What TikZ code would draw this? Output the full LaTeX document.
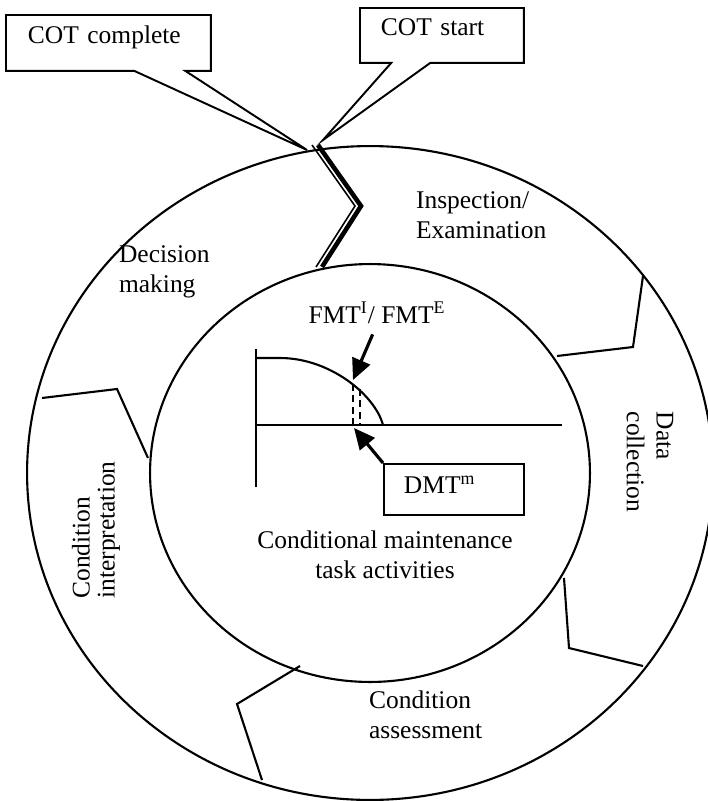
\documentclass[tikz,border=0pt]{standalone}
\usepackage{fontspec}
\setmainfont{Liberation Serif}
\usetikzlibrary{arrows.meta,shapes.callouts}

\begin{document}
\begin{tikzpicture}[
      x=0.02cm, y=-0.02cm,
      font=\fontsize{14.5}{17}\selectfont,
      line width=1.2pt,
      cotbox/.style  ={rectangle callout, draw, line width=1.1pt, align=left,
                       inner ysep=0pt, anchor=north west},
      tagbox/.style  ={rectangle, draw, line width=1.1pt, align=left,
                       inner ysep=0pt, anchor=north west},
      lbl/.style     ={inner sep=0pt, align=left},
      callarrow/.style={-{Triangle[length=0.42cm,width=0.38cm]}, line width=1.8pt},
      sector/.style  ={line width=1.2pt},
      hazard/.style  ={dash pattern=on 4pt off 2.5pt, line width=1.1pt}
    ]
    \path[use as bounding box, fill=white] (0,0) rectangle (707,801);

    % --- the two rings ---
    \coordinate (hub) at (370,473);
    \draw (hub) ellipse [x radius=6.86cm, y radius=6.54cm];
    \draw (hub) ellipse [x radius=4.4cm, y radius=4.18cm];

    % --- sector borders between the stages ---
    \draw[sector] (643,276) -- (633,347) -- (557,356);
    \draw[sector] (564,578) -- (569,648) -- (643,666);
    \draw[sector] (300,666) -- (237,704) -- (262,780);
    \draw[sector] (42,398)  -- (117,389) -- (148,458);

    % --- break where the cycle opens and closes ---
    \coordinate (z1) at (318,145);
    \coordinate (z2) at (361,206);
    \coordinate (z3) at (322,267);
    \draw[line width=2.6pt] (z1) -- (z2) -- (z3);
    \draw[line width=0.9pt] ([xshift=-0.12cm]z1) -- ([xshift=-0.12cm]z2) -- ([xshift=-0.12cm]z3);

    % --- callouts ---
    \coordinate (done tip)  at (307,150);
    \coordinate (start tip) at (323,140);
    \node[cotbox, text width=3.22cm, inner xsep=0.44cm, text height=0.58cm, text depth=0.54cm,
          callout pointer width=1.02cm, callout absolute pointer={(done tip)}]
          (done) at (5,14) {COT complete};
    \node[cotbox, text width=2.44cm, inner xsep=0.42cm, text height=0.56cm, text depth=0.54cm,
          callout pointer width=0.78cm, callout absolute pointer={(start tip)}]
          (start) at (359,7) {COT start};

    % --- stage labels in the outer ring ---
    \node[lbl, anchor=north west] (insp)   at (415,191) {Inspection/\\Examination};
    \node[lbl, anchor=north west] (decide) at (118,245) {Decision\\making};
    \node[lbl, rotate=-90]        (data)   at (650,462) {Data\\collection};
    \node[lbl, rotate=90]         (interp) at (96,530)  {Condition\\[-0.1cm]interpretation};
    \node[lbl, anchor=north west] (assess) at (368,690) {Condition\\assessment};

    % --- failure curve in the inner circle ---
    \coordinate (ytop) at (256,349);
    \coordinate (ybot) at (256,487);
    \coordinate (orig) at (256,425);
    \coordinate (xend) at (562,425);
    \draw (ytop) -- (ybot);
    \draw (orig) -- (xend);
    \draw (257,358) -- (280,358) .. controls (330,358) and (375,395) .. (383,425);
    \draw[hazard] (353,384) -- (353,425);
    \draw[hazard] (360,389) -- (360,425);

    \node[lbl, anchor=base] (fmt) at (377,323) {FMT\textsuperscript{I}/ FMT\textsuperscript{E}};
    \node[tagbox, text width=2cm, inner xsep=0.4cm, text height=0.6cm, text depth=0.42cm]
          (dmt) at (383,463) {DMT\textsuperscript{m}};
    \coordinate (fmt tip) at (353,380);
    \coordinate (dmt tip) at (354,428);
    \draw[callarrow, shorten <=0.22cm] (fmt.south) -- (fmt tip);
    \draw[callarrow] (dmt.north west) -- (dmt tip);

    \node[lbl, align=center, anchor=north] (task) at (385,530)
          {Conditional maintenance\\task activities};
  \end{tikzpicture}
\end{document}
